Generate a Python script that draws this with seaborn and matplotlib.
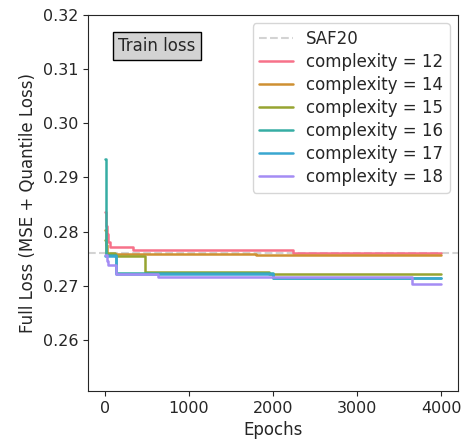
import numpy as np
import pandas as pd
import matplotlib
matplotlib.use("Agg")
import matplotlib.pyplot as plt
import seaborn as sns

# ---------------------------------------------------------------
# 데이터 (그림에서 읽은 값, 계단형 학습 손실)
# ---------------------------------------------------------------
saf20_loss = 0.2760

complexities = [12, 14, 15, 16, 17, 18]

epochs_12 = [0, 10, 20, 40, 60, 330, 2240, 4000]
loss_12 = [0.2836, 0.2810, 0.2795, 0.2780, 0.2771, 0.2765, 0.2761, 0.2761]

epochs_14 = [0, 10, 20, 1800, 4000]
loss_14 = [0.2802, 0.2775, 0.2759, 0.2757, 0.2757]

epochs_15 = [0, 10, 120, 480, 1950, 4000]
loss_15 = [0.2785, 0.2760, 0.2754, 0.2725, 0.2722, 0.2722]

epochs_16 = [0, 10, 130, 2000, 4000]
loss_16 = [0.2935, 0.2757, 0.2724, 0.2714, 0.2714]

epochs_17 = [0, 130, 2000, 4000]
loss_17 = [0.2755, 0.2721, 0.2714, 0.2714]

epochs_18 = [0, 20, 40, 130, 630, 3650, 4000]
loss_18 = [0.2757, 0.2745, 0.2738, 0.2721, 0.2716, 0.2703, 0.2703]

all_epochs = [epochs_12, epochs_14, epochs_15, epochs_16, epochs_17, epochs_18]
all_loss = [loss_12, loss_14, loss_15, loss_16, loss_17, loss_18]

# 긴 형식 DataFrame
frames = []
for c, ep, ls in zip(complexities, all_epochs, all_loss):
    frames.append(pd.DataFrame({"Epochs": ep, "loss": ls,
                                "model": f"complexity = {c}"}))
df = pd.concat(frames, ignore_index=True)

# husl 8색 팔레트에서 선택
husl = sns.color_palette("husl", 8)
colors = [husl[0], husl[1], husl[2], husl[4], husl[5], husl[6]]
palette = {f"complexity = {c}": col for c, col in zip(complexities, colors)}

# ---------------------------------------------------------------
# 시각화
# ---------------------------------------------------------------
sns.set_style("ticks")
plt.rcParams["font.family"] = ["DejaVu Sans"]
plt.rcParams["font.size"] = 12

fig = plt.figure(figsize=(4.66, 4.45), dpi=100)
ax = fig.add_axes([0.189, 0.121, 0.794, 0.845])

ax.axhline(saf20_loss, color="lightgray", ls="--", lw=1.5, label="SAF20")
sns.lineplot(data=df, x="Epochs", y="loss", hue="model", palette=palette,
             drawstyle="steps-post", lw=1.8, ax=ax, sort=True)

ax.set_ylim(0.2505, 0.32)
ax.set_yticks([0.26, 0.27, 0.28, 0.29, 0.30, 0.31, 0.32])
ax.set_xticks([0, 1000, 2000, 3000, 4000])
ax.set_xlabel("Epochs", fontsize=12)
ax.set_ylabel("Full Loss (MSE + Quantile Loss)", fontsize=12)
ax.tick_params(labelsize=11.5)

ax.text(0.186, 0.917, "Train loss", transform=ax.transAxes,
        ha="center", va="center", fontsize=12,
        bbox=dict(facecolor="lightgray", edgecolor="black", boxstyle="square,pad=0.3"))

ax.legend(loc="upper right", fontsize=12, title=None, labelspacing=0.3)

fig.savefig("out.png", dpi=100)
